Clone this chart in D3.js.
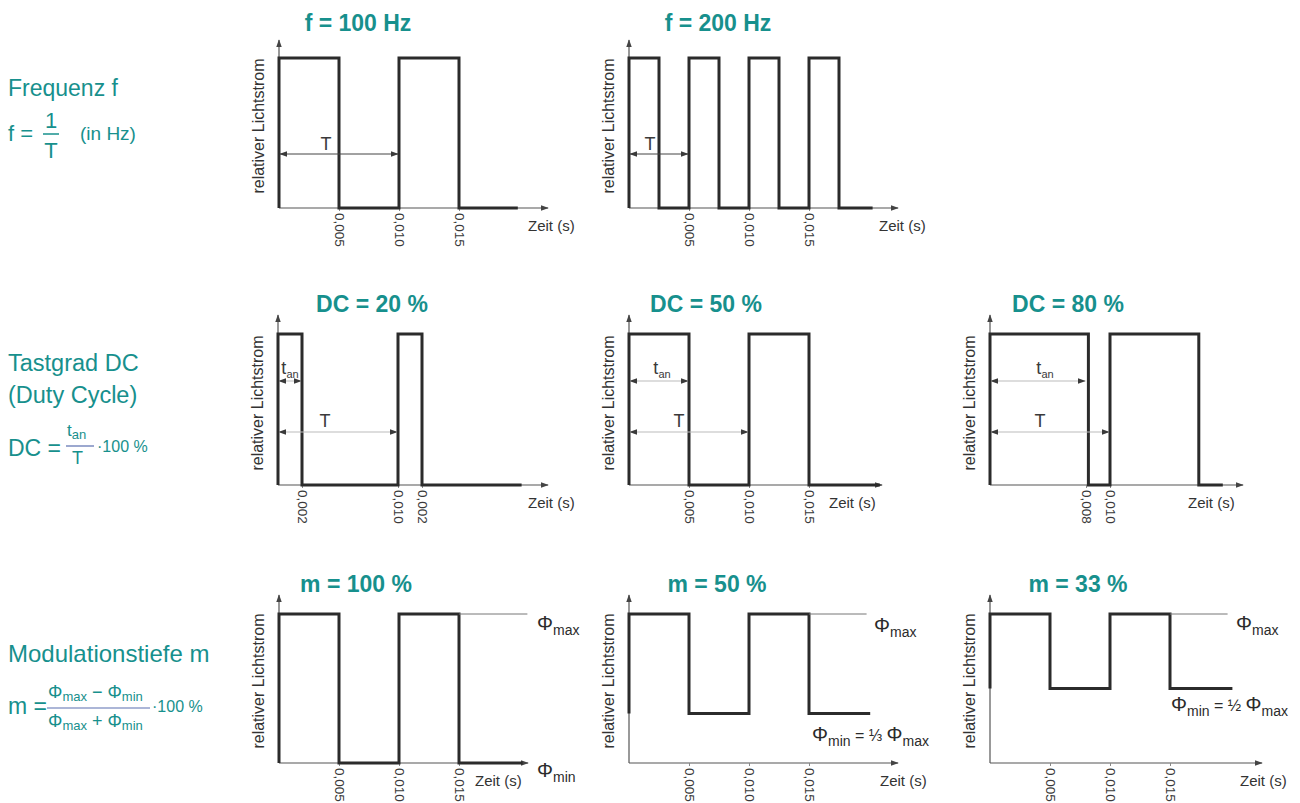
<!DOCTYPE html>
<html><head><meta charset="utf-8">
<script src="https://cdn.jsdelivr.net/npm/d3@7"></script>
<style>
html,body{margin:0;padding:0;background:#fff;}
svg{display:block;font-family:"Liberation Sans",Arial,sans-serif;}
</style></head>
<body>
<svg id="c" width="1300" height="803"></svg>
<script>
// ---------- data ----------
const titles = ["f = 100 Hz","f = 200 Hz","DC = 20 %","DC = 50 %","DC = 80 %","m = 100 %","m = 50 %","m = 33 %"];

const f100Times  = [0, 0, 0.005, 0.010, 0.015, 0.0199];
const f100Levels = [0, 1, 0, 1, 0, 0];
const f200Times  = [0, 0, 0.0025, 0.005, 0.0075, 0.010, 0.0125, 0.015, 0.0175, 0.0203];
const f200Levels = [0, 1, 0, 1, 0, 1, 0, 1, 0, 0];
const dc20Times  = [0, 0, 0.002, 0.010, 0.012, 0.0203];
const dc20Levels = [0, 1, 0, 1, 0, 0];
const dc50Times  = [0, 0, 0.005, 0.010, 0.015, 0.0209];
const dc50Levels = [0, 1, 0, 1, 0, 0];
const dc80Times  = [0, 0, 0.0082, 0.010, 0.0174, 0.0194];
const dc80Levels = [0, 1, 0, 1, 0, 0];
const m100Times  = [0, 0, 0.005, 0.010, 0.015, 0.0203];
const m100Levels = [0, 1, 0, 1, 0, 0];
const m50Times   = [0, 0, 0.005, 0.010, 0.015, 0.0201];
const m50Levels  = [0.333, 1, 0.333, 1, 0.333, 0.333];
const m33Times   = [0, 0, 0.005, 0.010, 0.015, 0.0202];
const m33Levels  = [0.5, 1, 0.5, 1, 0.5, 0.5];

const tickVals5   = [0.005, 0.010, 0.015];
const tickLabels5 = ["0,005", "0,010", "0,015"];
const dc20TickVals   = [0.002, 0.010, 0.012];
const dc20TickLabels = ["0,002", "0,010", "0,002"];
const dc80TickVals   = [0.008, 0.010];
const dc80TickLabels = ["0,008", "0,010"];

const yLabel = "relativer Lichtstrom";
const xLabel = "Zeit (s)";

// ---------- layout ----------
const TEAL = "#17908d";
const INK = "#2b2b2b";
const AX = "#555";
const svg = d3.select("#c");

const defs = svg.append("defs");
function marker(id, color, orient){
  defs.append("marker").attr("id", id).attr("viewBox","0 0 10 10")
    .attr("refX", 9).attr("refY", 5).attr("markerWidth", 8).attr("markerHeight", 8)
    .attr("markerUnits","userSpaceOnUse").attr("orient", orient)
    .append("path").attr("d","M0,1.5 L10,5 L0,8.5 Z").attr("fill", color);
}
marker("ax", "#444", "auto");
marker("dim", "#3a3a3a", "auto");
marker("dimS", "#3a3a3a", "auto-start-reverse");

const rows = [
  {yBase:208, yHigh:58, yTop:40},
  {yBase:485, yHigh:334, yTop:315},
  {yBase:763, yHigh:614, yTop:595}
];

const panels = [
  {row:0, x0:279, xEnd:548, times:f100Times, levels:f100Levels, tv:tickVals5, tl:tickLabels5, zeit:[528,231], titleX:358},
  {row:0, x0:629, xEnd:898, times:f200Times, levels:f200Levels, tv:tickVals5, tl:tickLabels5, zeit:[879,231], titleX:718},
  {row:1, x0:278, xEnd:548, times:dc20Times, levels:dc20Levels, tv:dc20TickVals, tl:dc20TickLabels, zeit:[528,508], titleX:372},
  {row:1, x0:629, xEnd:882, times:dc50Times, levels:dc50Levels, tv:tickVals5, tl:tickLabels5, zeit:[829,508], titleX:706},
  {row:1, x0:990, xEnd:1243, times:dc80Times, levels:dc80Levels, tv:dc80TickVals, tl:dc80TickLabels, zeit:[1188,508], titleX:1068},
  {row:2, x0:279, xEnd:528, times:m100Times, levels:m100Levels, tv:tickVals5, tl:tickLabels5, zeit:[475,786], titleX:356},
  {row:2, x0:629, xEnd:898, times:m50Times, levels:m50Levels, tv:tickVals5, tl:tickLabels5, zeit:[880,786], titleX:717},
  {row:2, x0:990, xEnd:1262, times:m33Times, levels:m33Levels, tv:tickVals5, tl:tickLabels5, zeit:[1240,786], titleX:1078}
];

panels.forEach((p, i) => {
  const r = rows[p.row];
  const x = d3.scaleLinear().domain([0, 0.02]).range([p.x0, p.x0 + 240]);
  const y = d3.scaleLinear().domain([0, 1]).range([r.yBase, r.yHigh]);
  p.x = x; p.y = y;
  const g = svg.append("g");

  // title
  g.append("text").attr("x", p.titleX).attr("y", p.row===0 ? 31 : (p.row===1 ? 312 : 592))
    .attr("text-anchor","middle").attr("font-weight","bold").attr("font-size", 23)
    .attr("fill", TEAL).text(titles[i]);

  // axes lines with arrows
  g.append("line").attr("x1", p.x0).attr("y1", r.yBase).attr("x2", p.x0).attr("y2", r.yTop)
    .attr("stroke", AX).attr("stroke-width", 1.2).attr("marker-end","url(#ax)");
  g.append("line").attr("x1", p.x0).attr("y1", r.yBase).attr("x2", p.xEnd).attr("y2", r.yBase)
    .attr("stroke", AX).attr("stroke-width", 1.2).attr("marker-end","url(#ax)");

  // tick axis
  const axis = d3.axisBottom(x).tickValues(p.tv).tickFormat((d, k) => p.tl[k]).tickSize(3).tickSizeOuter(0);
  const ag = g.append("g").attr("transform", `translate(0,${r.yBase})`).call(axis);
  ag.select(".domain").remove();
  ag.selectAll(".tick line").attr("stroke", "#888").attr("stroke-width", 1);
  ag.selectAll(".tick text")
    .attr("transform","rotate(90)").attr("x", 5).attr("y", 0).attr("dy","0.36em")
    .style("text-anchor","start").attr("font-size", 13.5).attr("fill","#3a3a3a")
    .attr("font-family", "Liberation Sans, Arial, sans-serif");

  // y label
  const cy = r.yBase - 82;
  g.append("text").attr("transform", `translate(${p.x0 - 15},${cy}) rotate(-90)`)
    .attr("text-anchor","middle").attr("font-size", 16).attr("fill","#333").text(yLabel);

  // x label
  g.append("text").attr("x", p.zeit[0]).attr("y", p.zeit[1]).attr("font-size", 15)
    .attr("fill","#333").text(xLabel);

  // signal
  const pts = p.times.map((t, k) => [t, p.levels[k]]);
  const line = d3.line().x(d => x(d[0])).y(d => y(d[1])).curve(d3.curveStepAfter);
  g.append("path").attr("d", line(pts)).attr("fill","none").attr("stroke", INK)
    .attr("stroke-width", 3).attr("stroke-linejoin","miter");
});

// ---------- dimension arrows ----------
function dim(p, t0, t1, yy, lineColor){
  svg.append("line").attr("x1", p.x(t0) + 1).attr("x2", p.x(t1) - 1).attr("y1", yy).attr("y2", yy)
    .attr("stroke", lineColor).attr("stroke-width", 1)
    .attr("marker-start","url(#dimS)").attr("marker-end","url(#dim)");
}
function lbl(x, yy, main, sub){
  const t = svg.append("text").attr("x", x).attr("y", yy).attr("font-size", 18).attr("fill","#3a3a3a")
    .attr("text-anchor","middle");
  t.append("tspan").text(main);
  if (sub) t.append("tspan").attr("font-size", 11).attr("dy", 4).text(sub);
}
// f = 100 Hz
dim(panels[0], 0, 0.010, 154, "#444"); lbl(326, 150, "T");
// f = 200 Hz
dim(panels[1], 0, 0.005, 154, "#444"); lbl(650, 150, "T");
// DC 20
dim(panels[2], 0, 0.002, 381, "#bbb"); lbl(290, 374, "t", "an");
dim(panels[2], 0, 0.010, 432, "#bbb"); lbl(325, 427, "T");
// DC 50
dim(panels[3], 0, 0.005, 381, "#bbb"); lbl(662, 374, "t", "an");
dim(panels[3], 0, 0.010, 432, "#bbb"); lbl(679, 427, "T");
// DC 80
dim(panels[4], 0, 0.008, 381, "#bbb"); lbl(1045, 374, "t", "an");
dim(panels[4], 0, 0.010, 432, "#bbb"); lbl(1040, 427, "T");

// ---------- Phi labels ----------
function phi(x, yy, parts){
  const t = svg.append("text").attr("x", x).attr("y", yy).attr("fill","#2b2b2b");
  parts.forEach(pt => {
    const s = t.append("tspan").attr("font-size", pt.s).text(pt.t);
    if (pt.dy !== undefined) s.attr("dy", pt.dy);
  });
}
// reference lines for Phi max
[[5, 0.015, 0.0207], [6, 0.015, 0.0198], [7, 0.015, 0.0198]].forEach(([k, a, b]) => {
  const p = panels[k];
  svg.append("line").attr("x1", p.x(a)).attr("x2", p.x(b)).attr("y1", p.y(1)).attr("y2", p.y(1))
    .attr("stroke","#777").attr("stroke-width", 1);
});
phi(537, 630, [{t:"Φ", s:20},{t:"max", s:14, dy:5}]);
phi(537, 777, [{t:"Φ", s:20},{t:"min", s:14, dy:5}]);
phi(874, 632, [{t:"Φ", s:20},{t:"max", s:14, dy:5}]);
phi(812, 741, [{t:"Φ", s:20},{t:"min", s:14, dy:5},{t:" = ⅓ ", s:16, dy:-5},{t:"Φ", s:20},{t:"max", s:14, dy:5}]);
phi(1236, 630, [{t:"Φ", s:20},{t:"max", s:14, dy:5}]);
phi(1171, 711, [{t:"Φ", s:20},{t:"min", s:14, dy:5},{t:" = ½ ", s:16, dy:-5},{t:"Φ", s:20},{t:"max", s:14, dy:5}]);

// ---------- left side definitions ----------
const L = svg.append("g").attr("fill", TEAL);
function txt(x, yy, s, fs, anchor){
  return L.append("text").attr("x", x).attr("y", yy).attr("font-size", fs)
    .attr("text-anchor", anchor || "start").attr("fill", TEAL).text(s);
}
const FRAC = "#5a6fb0";
// Frequenz
txt(8, 96, "Frequenz f", 23);
txt(8, 141, "f =", 22);
txt(51, 128, "1", 22, "middle");
L.append("line").attr("x1", 43).attr("x2", 59).attr("y1", 134).attr("y2", 134).attr("stroke", TEAL).attr("stroke-width", 1.5);
txt(51, 158, "T", 22, "middle");
txt(80, 140, "(in Hz)", 19);
// Tastgrad
txt(8, 371, "Tastgrad DC", 23.5);
txt(8, 403, "(Duty Cycle)", 23.5);
txt(8, 456, "DC =", 23);
const tan = L.append("text").attr("x", 67).attr("y", 436).attr("font-size", 17).attr("fill", TEAL);
tan.append("tspan").text("t");
tan.append("tspan").attr("font-size", 13).attr("dy", 3).text("an");
L.append("line").attr("x1", 66).attr("x2", 94).attr("y1", 446).attr("y2", 446).attr("stroke", FRAC).attr("stroke-width", 1.2);
txt(72, 464, "T", 18);
txt(97, 452, "·100 %", 16);
// Modulationstiefe
txt(8, 662, "Modulationstiefe m", 24);
txt(8, 714, "m =", 23);
const num = L.append("text").attr("x", 48).attr("y", 698).attr("font-size", 18).attr("fill", TEAL);
num.append("tspan").text("Φ");
num.append("tspan").attr("font-size", 13).attr("dy", 3).text("max");
num.append("tspan").attr("dy", -3).text(" − Φ");
num.append("tspan").attr("font-size", 13).attr("dy", 3).text("min");
L.append("line").attr("x1", 47).attr("x2", 150).attr("y1", 708).attr("y2", 708).attr("stroke", FRAC).attr("stroke-width", 1.2);
const den = L.append("text").attr("x", 48).attr("y", 727).attr("font-size", 18).attr("fill", TEAL);
den.append("tspan").text("Φ");
den.append("tspan").attr("font-size", 13).attr("dy", 3).text("max");
den.append("tspan").attr("dy", -3).text(" + Φ");
den.append("tspan").attr("font-size", 13).attr("dy", 3).text("min");
txt(152, 712, "·100 %", 16);
</script>
</body></html>
